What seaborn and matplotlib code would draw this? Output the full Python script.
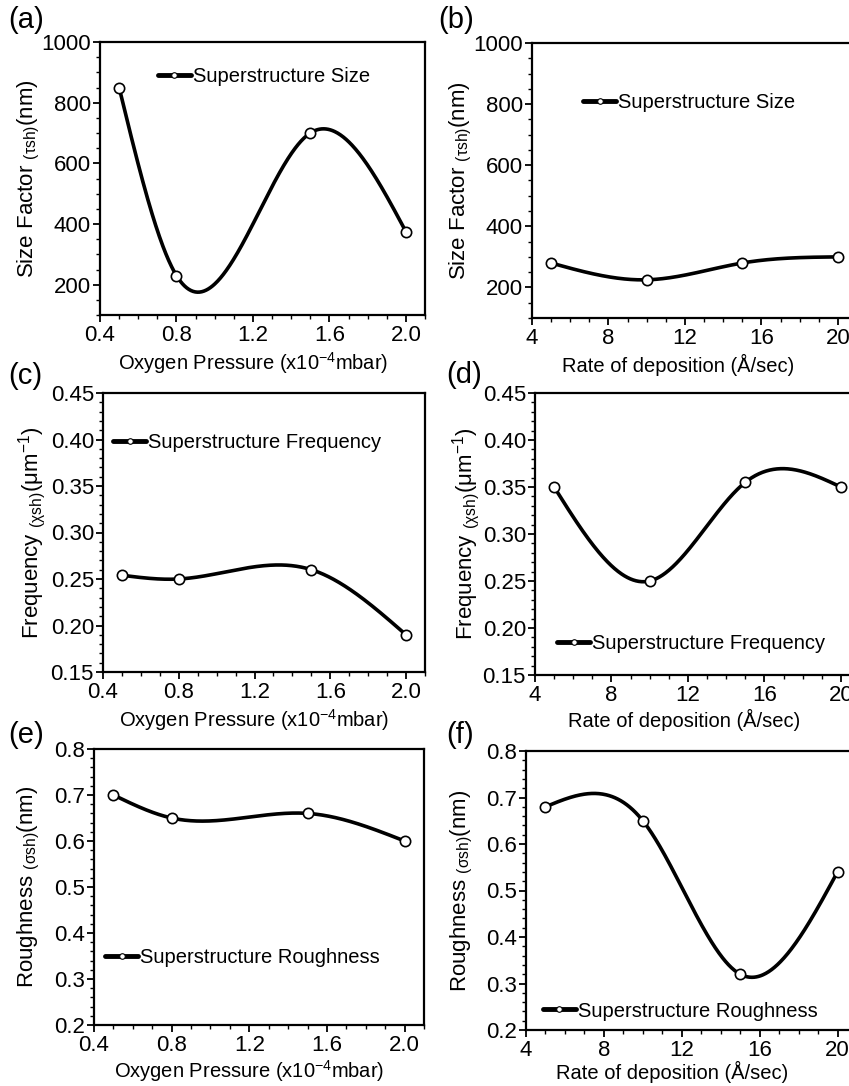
import numpy as np
import pandas as pd
import matplotlib
matplotlib.use("Agg")
import matplotlib.pyplot as plt
from matplotlib.lines import Line2D
from matplotlib.ticker import AutoMinorLocator
import seaborn as sns

# ---- data ----
oxygen_pressure = [0.5, 0.8, 1.5, 2.0]          # x10^-4 mbar
deposition_rate = [5, 10, 15, 20]               # Å/sec

size_vs_pressure = [850, 230, 700, 375]         # nm
size_vs_rate = [280, 225, 280, 300]             # nm
freq_vs_pressure = [0.254, 0.250, 0.260, 0.190]  # µm^-1
freq_vs_rate = [0.350, 0.250, 0.355, 0.350]     # µm^-1
rough_vs_pressure = [0.70, 0.65, 0.66, 0.60]    # nm
rough_vs_rate = [0.68, 0.65, 0.32, 0.54]        # nm

size_label = "Superstructure Size"
freq_label = "Superstructure Frequency"
rough_label = "Superstructure Roughness"
panel_tags = ["(a)", "(b)", "(c)", "(d)", "(e)", "(f)"]

xlab_pressure = r"Oxygen Pressure (x10$^{-4}$mbar)"
xlab_rate = "Rate of deposition (Å/sec)"
ylab_size = r"Size Factor $\mathregular{_{(\tau sh)}(nm)}$"
ylab_freq = r"Frequency $\mathregular{_{(\chi sh)}(\mu m^{-1})}$"
ylab_rough = r"Roughness $\mathregular{_{(\sigma sh)}(nm)}$"

# ---- style ----
sns.set_theme(style="ticks")
plt.rcParams.update({
    "font.family": ["Liberation Sans", "DejaVu Sans"],
    "mathtext.fontset": "custom",
    "mathtext.rm": "Liberation Sans",
    "mathtext.it": "Liberation Sans:italic",
    "mathtext.bf": "Liberation Sans:bold",
    "mathtext.default": "regular",
    "axes.edgecolor": "black",
    "axes.linewidth": 1.6,
    "xtick.color": "black",
    "ytick.color": "black",
    "text.color": "black",
    "axes.labelcolor": "black",
})

W, H = 849, 1086
fig = plt.figure(figsize=(W / 100, H / 100), dpi=100)
fig.patch.set_facecolor("white")


def px_axes(left, top, right, bottom):
    return fig.add_axes([left / W, 1 - bottom / H, (right - left) / W, (bottom - top) / H])


def natural_spline(x, y, num=400):
    """Natural cubic spline through the measured points (smooth connector)."""
    x = np.asarray(x, float)
    y = np.asarray(y, float)
    n = len(x)
    h = np.diff(x)
    A = np.zeros((n, n))
    r = np.zeros(n)
    A[0, 0] = A[-1, -1] = 1.0
    for i in range(1, n - 1):
        A[i, i - 1] = h[i - 1]
        A[i, i] = 2 * (h[i - 1] + h[i])
        A[i, i + 1] = h[i]
        r[i] = 6 * ((y[i + 1] - y[i]) / h[i] - (y[i] - y[i - 1]) / h[i - 1])
    M = np.linalg.solve(A, r)
    xs = np.linspace(x[0], x[-1], num)
    idx = np.clip(np.searchsorted(x, xs) - 1, 0, n - 2)
    hi = h[idx]
    a = (x[idx + 1] - xs) / hi
    b = (xs - x[idx]) / hi
    ys = a * y[idx] + b * y[idx + 1] + ((a ** 3 - a) * M[idx] + (b ** 3 - b) * M[idx + 1]) * hi ** 2 / 6
    return xs, ys


panels = [
    dict(box=(100, 42, 425, 315), x=oxygen_pressure, y=size_vs_pressure, xlim=(0.4, 2.1), ylim=(100, 1000),
         xmaj=0.4, yticks=[200, 400, 600, 800, 1000], ymin=4, xfmt="{:.1f}", yfmt="{:.0f}",
         xlab=xlab_pressure, ylab=ylab_size,
         leg=size_label, anc=(0.178, 0.875), xlpos=(0.47, -0.13), ylx=-0.178, tag=(8, 20)),
    dict(box=(532, 43, 857, 318), x=deposition_rate, y=size_vs_rate, xlim=(4, 21), ylim=(100, 1000),
         xmaj=4, yticks=[200, 400, 600, 800, 1000], ymin=4, xfmt="{:.0f}", yfmt="{:.0f}",
         xlab=xlab_rate, ylab=ylab_size,
         leg=size_label, anc=(0.157, 0.785), xlpos=(0.45, -0.13), ylx=-0.18, tag=(438, 20)),
    dict(box=(103, 393, 425, 672), x=oxygen_pressure, y=freq_vs_pressure, xlim=(0.4, 2.1), ylim=(0.15, 0.45),
         xmaj=0.4, yticks=[0.15, 0.20, 0.25, 0.30, 0.35, 0.40, 0.45], ymin=5, xfmt="{:.1f}", yfmt="{:.2f}",
         xlab=xlab_pressure, ylab=ylab_freq,
         leg=freq_label, anc=(0.031, 0.824), xlpos=(0.47, -0.125), ylx=-0.171, tag=(8, 376)),
    dict(box=(535, 393, 860, 675), x=deposition_rate, y=freq_vs_rate, xlim=(4, 21), ylim=(0.15, 0.45),
         xmaj=4, yticks=[0.15, 0.20, 0.25, 0.30, 0.35, 0.40, 0.45], ymin=5, xfmt="{:.0f}", yfmt="{:.2f}",
         xlab=xlab_rate, ylab=ylab_freq,
         leg=freq_label, anc=(0.068, 0.113), xlpos=(0.46, -0.12), ylx=-0.163, tag=(446, 375)),
    dict(box=(94, 749, 424, 1025), x=oxygen_pressure, y=rough_vs_pressure, xlim=(0.4, 2.1), ylim=(0.2, 0.8),
         xmaj=0.4, yticks=[0.2, 0.3, 0.4, 0.5, 0.6, 0.7, 0.8], ymin=5, xfmt="{:.1f}", yfmt="{:.1f}",
         xlab=xlab_pressure, ylab=ylab_rough,
         leg=rough_label, anc=(0.033, 0.246), xlpos=(0.47, -0.12), ylx=-0.158, tag=(8, 735)),
    dict(box=(526, 751, 857, 1030), x=deposition_rate, y=rough_vs_rate, xlim=(4, 21), ylim=(0.2, 0.8),
         xmaj=4, yticks=[0.2, 0.3, 0.4, 0.5, 0.6, 0.7, 0.8], ymin=5, xfmt="{:.0f}", yfmt="{:.1f}",
         xlab=xlab_rate, ylab=ylab_rough,
         leg=rough_label, anc=(0.051, 0.068), xlpos=(0.44, -0.112), ylx=-0.154, tag=(446, 735)),
]

for p, tag in zip(panels, panel_tags):
    ax = px_axes(*p["box"])
    ax.set_facecolor("white")

    xs, ys = natural_spline(p["x"], p["y"])
    curve = pd.DataFrame({"x": xs, "y": ys})
    pts = pd.DataFrame({"x": p["x"], "y": p["y"]})

    sns.lineplot(data=curve, x="x", y="y", ax=ax, color="black", linewidth=2.6,
                 sort=False, estimator=None, legend=False)
    sns.scatterplot(data=pts, x="x", y="y", ax=ax, marker="o", s=55, facecolor="white",
                    edgecolor="black", linewidth=1.2, zorder=5, legend=False, clip_on=False)

    xt = list(np.arange(p["xlim"][0], p["xlim"][1] - 1e-9, p["xmaj"]))
    ax.set_xticks(xt)
    ax.set_xticklabels([p["xfmt"].format(t) for t in xt])
    ax.set_yticks(p["yticks"])
    ax.set_yticklabels([p["yfmt"].format(t) for t in p["yticks"]])
    ax.xaxis.set_minor_locator(AutoMinorLocator(4))
    ax.yaxis.set_minor_locator(AutoMinorLocator(p["ymin"]))
    ax.set_xlim(*p["xlim"])
    ax.set_ylim(*p["ylim"])

    ax.tick_params(axis="both", which="major", direction="out", length=5, width=1.3,
                   labelsize=16, top=False, right=False)
    ax.tick_params(axis="x", which="major", pad=2.5)
    ax.tick_params(axis="y", which="major", pad=1.5)
    ax.tick_params(axis="both", which="minor", direction="out", length=3, width=1.0,
                   top=False, right=False)
    for s in ax.spines.values():
        s.set_visible(True)
        s.set_linewidth(1.6)
        s.set_color("black")

    ax.set_xlabel(p["xlab"], fontsize=14.5)
    ax.set_ylabel(p["ylab"], fontsize=16)
    ax.xaxis.set_label_coords(*p["xlpos"])
    ax.yaxis.set_label_coords(p["ylx"], 0.5)

    handle = Line2D([], [], color="black", linewidth=3.5, marker="o", markersize=4,
                    markerfacecolor="white", markeredgecolor="black", markeredgewidth=0.8)
    ax.legend(handles=[handle], labels=[p["leg"]], loc="center left", bbox_to_anchor=p["anc"],
              frameon=False, fontsize=14.5, handlelength=1.65, handletextpad=0.1,
              borderpad=0, borderaxespad=0)

    tx, ty = p["tag"]
    fig.text(tx / W, 1 - ty / H, tag, fontsize=21, ha="left", va="center")

fig.savefig("out.png", dpi=100, facecolor="white")
